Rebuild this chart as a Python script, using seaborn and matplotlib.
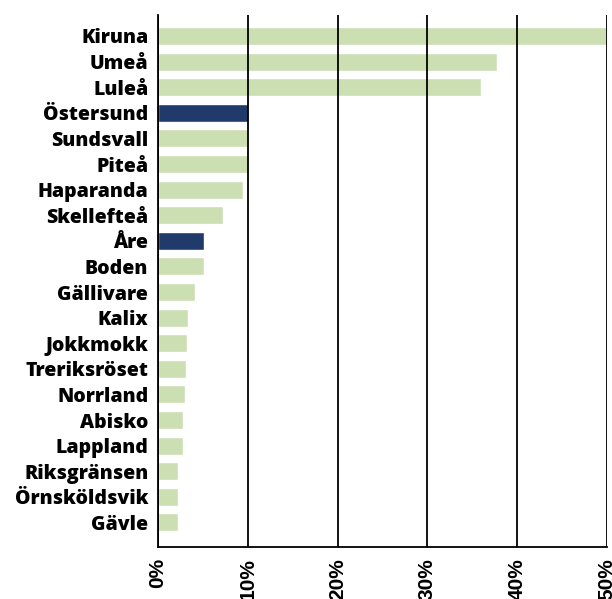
import matplotlib
matplotlib.use("Agg")
import matplotlib.pyplot as plt
import seaborn as sns
import pandas as pd
from matplotlib import font_manager as fm
from matplotlib.ticker import FuncFormatter, MultipleLocator

places = ["Kiruna", "Umeå", "Luleå", "Östersund", "Sundsvall", "Piteå",
          "Haparanda", "Skellefteå", "Åre", "Boden", "Gällivare", "Kalix",
          "Jokkmokk", "Treriksröset", "Norrland", "Abisko", "Lappland",
          "Riksgränsen", "Örnsköldsvik", "Gävle"]
shares = [50.0, 37.7, 36.0, 10.0, 10.0, 10.0, 9.5, 7.2, 5.1, 5.1, 4.1,
          3.3, 3.2, 3.1, 3.0, 2.8, 2.8, 2.2, 2.2, 2.2]
highlighted = ["Östersund", "Åre"]

GREEN = "#cbdfb2"
NAVY = "#203a6b"

df = pd.DataFrame({"place": places, "share": shares})
df["group"] = ["hl" if p in highlighted else "base" for p in places]

sns.set_style("white")
plt.rcParams["font.family"] = ["Open Sans", "DejaVu Sans"]


def face(filename, size, fallback):
    for f in fm.fontManager.ttflist:
        if f.fname.endswith(filename):
            return fm.FontProperties(fname=f.fname, size=size)
    return fm.FontProperties(family=fallback, weight="bold", size=size)


name_font = face("OpenSans-ExtraBold.ttf", 14, "DejaVu Sans")
pct_font = face("LiberationSans-Bold.ttf", 15, "DejaVu Sans")

fig = plt.figure(figsize=(6.12, 5.99), dpi=100)
ax = fig.add_axes([158 / 612, 1 - 547 / 599, 449 / 612, (547 - 15) / 599])

sns.barplot(data=df, y="place", x="share", hue="group",
            palette={"base": GREEN, "hl": NAVY}, order=places,
            orient="h", width=0.7, dodge=False, legend=False,
            saturation=1, ax=ax)

ax.set_xlim(0, 50)
ax.set_ylim(19.96, -0.82)
ax.xaxis.set_major_locator(MultipleLocator(10))
ax.xaxis.set_major_formatter(FuncFormatter(lambda v, _: f"{int(round(v))}%"))
ax.grid(axis="x", color="black", linewidth=1.3)
ax.set_axisbelow(False)
for b in ax.patches:
    b.set_zorder(1)
for gl in ax.get_xgridlines():
    gl.set_zorder(2)

ax.set_xlabel("")
ax.set_ylabel("")
ax.tick_params(axis="y", length=0, pad=7, labelcolor="black")
ax.tick_params(axis="x", length=0, pad=8, labelrotation=90, labelcolor="black")
fig.canvas.draw()
for lab in ax.get_yticklabels():
    lab.set_fontproperties(name_font)
for lab in ax.get_xticklabels():
    lab.set_fontproperties(pct_font)
    lab.set_va("top")

for side in ["top", "right"]:
    ax.spines[side].set_visible(False)
for side in ["left", "bottom"]:
    ax.spines[side].set_color("black")
    ax.spines[side].set_linewidth(1.3)

fig.savefig("out.png", dpi=100)
